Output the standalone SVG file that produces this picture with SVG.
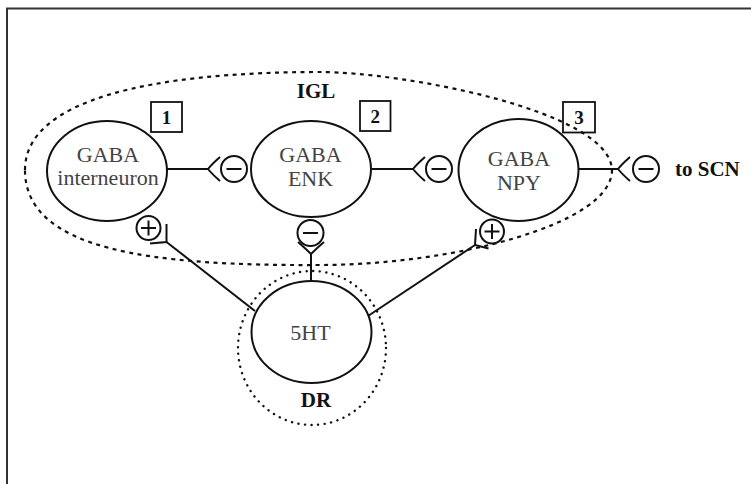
<svg xmlns="http://www.w3.org/2000/svg" width="751" height="484" viewBox="0 0 751 484">
  <style>
    .cell { fill: #fff; stroke: #111; stroke-width: 2; }
    .cell-text { font-family: "Liberation Serif", "Times New Roman", serif; font-size: 22px; fill: #444; text-anchor: middle; }
    .label { font-family: "Liberation Serif", "Times New Roman", serif; font-size: 21px; font-weight: bold; fill: #111; }
    .mid { text-anchor: middle; }
    .num { font-family: "Liberation Serif", "Times New Roman", serif; font-size: 19px; font-weight: bold; fill: #111; text-anchor: middle; }
    .numbox { fill: none; stroke: #111; stroke-width: 1.8; }
    .wire { fill: none; stroke: #111; stroke-width: 2; }
    .sign { fill: #fff; stroke: #111; stroke-width: 2; }
    .igl { fill: none; stroke: #111; stroke-width: 2.2; stroke-dasharray: 4 4.5; }
    .dr { fill: none; stroke: #111; stroke-width: 2.4; stroke-dasharray: 0.1 6.5; stroke-linecap: round; }
  </style>
  <defs>
    <g id="minus">
      <circle class="sign" cx="0" cy="0" r="13"/>
      <line class="wire" x1="-7.5" y1="0" x2="7.5" y2="0" stroke-width="2.4"/>
    </g>
    <g id="plus">
      <circle class="sign" cx="0" cy="0" r="12"/>
      <line class="wire" x1="-7.5" y1="0" x2="7.5" y2="0" stroke-width="2.4"/>
      <line class="wire" x1="0" y1="-7.5" x2="0" y2="7.5" stroke-width="2.4"/>
    </g>
  </defs>

  <rect width="751" height="484" fill="#fff"/>
  <!-- figure frame -->
  <rect x="7" y="8.5" width="800" height="520" fill="none" stroke="#333" stroke-width="2"/>

  <!-- region outlines -->
  <g id="region-igl">
    <path class="igl" d="M25,170 C25,100 150,72 320,72 C400,72 610,110 612,170 C612,225 450,265 320,265 C150,266 25,250 25,170 Z"/>
    <text class="label mid" x="316" y="98">IGL</text>
  </g>
  <g id="region-dr">
    <ellipse class="dr" cx="312" cy="348" rx="74" ry="77"/>
    <text class="label mid" x="316" y="407">DR</text>
  </g>

  <!-- connectors and synapses -->
  <g id="connectors">
    <!-- interneuron -> ENK (inhibitory) -->
    <line class="wire" x1="167" y1="169" x2="208" y2="169"/>
    <path class="wire" d="M220,157 Q212,164 208,169 Q212,174 220,181"/>
    <use href="#minus" x="234" y="169"/>

    <!-- ENK -> NPY (inhibitory) -->
    <line class="wire" x1="371" y1="169" x2="413" y2="169"/>
    <path class="wire" d="M425,157 Q417,164 413,169 Q417,174 425,181"/>
    <use href="#minus" x="439" y="169"/>

    <!-- NPY -> SCN (inhibitory) -->
    <line class="wire" x1="578" y1="169" x2="618" y2="169"/>
    <path class="wire" d="M630,157 Q622,164 618,169 Q622,174 630,181"/>
    <use href="#minus" x="646" y="169"/>

    <!-- 5HT -> ENK (inhibitory) -->
    <line class="wire" x1="311" y1="254" x2="311" y2="282"/>
    <path class="wire" d="M298,242 Q306,249 311,254 Q316,249 324,242"/>
    <use href="#minus" x="310.5" y="233"/>

    <!-- 5HT -> interneuron (excitatory) -->
    <line class="wire" x1="255" y1="311" x2="166.5" y2="242"/>
    <path class="wire" d="M166.5,224 L166.5,242 L150,243.5"/>
    <use href="#plus" x="148.5" y="228"/>

    <!-- 5HT -> NPY (excitatory) -->
    <line class="wire" x1="368" y1="316" x2="475" y2="245"/>
    <path class="wire" d="M476,229 L475,245 L488.5,248.5"/>
    <use href="#plus" x="492" y="231.5"/>
  </g>

  <!-- cells -->
  <g id="node-interneuron">
    <ellipse class="cell" cx="107" cy="171" rx="60" ry="50"/>
    <text class="cell-text" x="108" y="162">GABA</text>
    <text class="cell-text" x="108" y="185">interneuron</text>
    <rect class="numbox" x="151" y="102" width="31" height="30"/>
    <text class="num" x="166.5" y="124">1</text>
  </g>
  <g id="node-enk">
    <ellipse class="cell" cx="311" cy="169" rx="60" ry="48"/>
    <text class="cell-text" x="310.5" y="162">GABA</text>
    <text class="cell-text" x="310.5" y="186">ENK</text>
    <rect class="numbox" x="360" y="101" width="30.5" height="30"/>
    <text class="num" x="375.2" y="123">2</text>
  </g>
  <g id="node-npy">
    <ellipse class="cell" cx="518.5" cy="170" rx="60" ry="51"/>
    <text class="cell-text" x="519" y="166">GABA</text>
    <text class="cell-text" x="519" y="190">NPY</text>
    <rect class="numbox" x="563" y="102" width="32" height="30.5"/>
    <text class="num" x="579" y="124">3</text>
  </g>
  <g id="node-5ht">
    <ellipse class="cell" cx="311.5" cy="332" rx="60" ry="51"/>
    <text class="cell-text" x="310.5" y="340">5HT</text>
  </g>

  <g id="target-scn">
    <text class="label" x="675" y="176">to SCN</text>
  </g>
</svg>
